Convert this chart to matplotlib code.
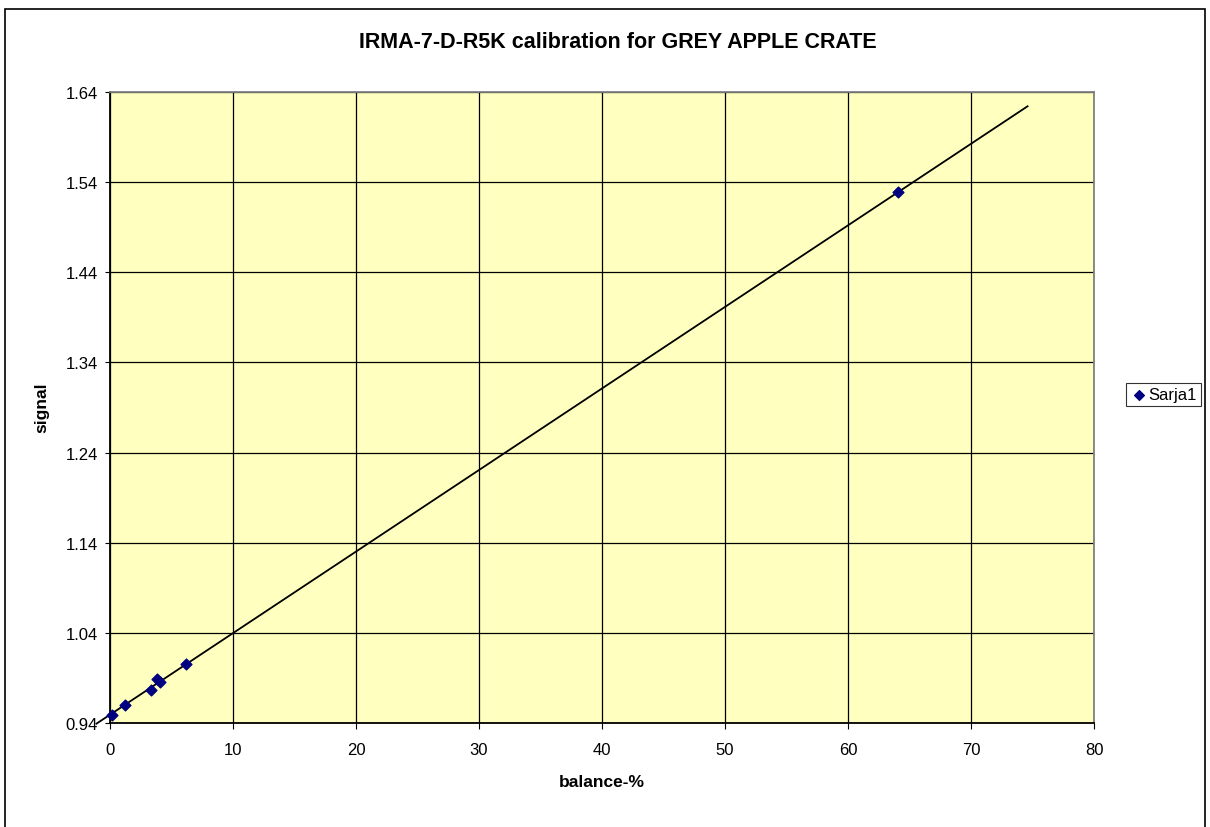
import numpy as np
import matplotlib.pyplot as plt
from matplotlib.patches import Rectangle

plt.rcParams['font.family'] = ['Liberation Sans', 'DejaVu Sans']

balance = [0.2, 1.2, 3.3, 3.85, 4.1, 6.2, 64.1]
signal = [0.949, 0.960, 0.977, 0.989, 0.985, 1.006, 1.529]

x_ticks = [0, 10, 20, 30, 40, 50, 60, 70, 80]
y_ticks = [0.94, 1.04, 1.14, 1.24, 1.34, 1.44, 1.54, 1.64]

fig = plt.figure(figsize=(12.1, 8.28), dpi=100)
ax = fig.add_axes([110 / 1210, 1 - 724 / 828, 984 / 1210, 631 / 828])
ax.set_facecolor('#FFFFC0')

# linear trendline, forecast 1 back and 10 forward
k, b = np.polyfit(balance, signal, 1)
tx = np.array([min(balance) - 1.3, max(balance) + 10.5])
ax.plot(tx, k * tx + b, color='black', lw=1.3, clip_on=False, zorder=3)

ax.scatter(balance, signal, marker='D', s=30, color='#000080',
           label='Sarja1', zorder=4, clip_on=False)

ax.set_xlim(0, 80)
ax.set_ylim(0.94, 1.64)
ax.set_xticks(x_ticks)
ax.set_yticks(y_ticks)
ax.set_yticklabels([f'{v:.2f}' for v in y_ticks])
ax.grid(True, color='black', lw=0.9)
ax.set_axisbelow(True)
ax.tick_params(labelsize=12, color='black')
ax.tick_params(axis='x', length=4.5, pad=9)
ax.tick_params(axis='y', length=3.6, pad=5)
for side, sp in ax.spines.items():
    sp.set_color('#808080')
    sp.set_linewidth(1.3)
ax.spines['left'].set_color('black')
ax.spines['bottom'].set_color('black')

fig.text((110 + 492) / 1210, 1 - 783 / 828, 'balance-%', ha='center', va='center',
         fontsize=12.5, fontweight='bold')
fig.text(42 / 1210, 1 - 408 / 828, 'signal', ha='center', va='center',
         rotation=90, fontsize=12.5, fontweight='bold')
fig.text(618 / 1210, 1 - 43 / 828, 'IRMA-7-D-R5K calibration for GREY APPLE CRATE',
         ha='center', va='center', fontsize=15.5, fontweight='bold')

leg = ax.legend(loc='upper left', bbox_to_anchor=(1126 / 1210, 1 - 384 / 828),
                bbox_transform=fig.transFigure, fontsize=12,
                frameon=True, fancybox=False, edgecolor='black',
                handletextpad=0.1, borderpad=0.25, handlelength=1.0,
                borderaxespad=0, scatterpoints=1, markerscale=0.9)
leg.get_frame().set_linewidth(0.8)

fig.patches.append(Rectangle((5 / 1210, -0.01), 1200 / 1210, 1.01 - 10 / 828,
                             transform=fig.transFigure, fill=False,
                             edgecolor='black', lw=1.2))

fig.savefig('out.png', dpi=100)
